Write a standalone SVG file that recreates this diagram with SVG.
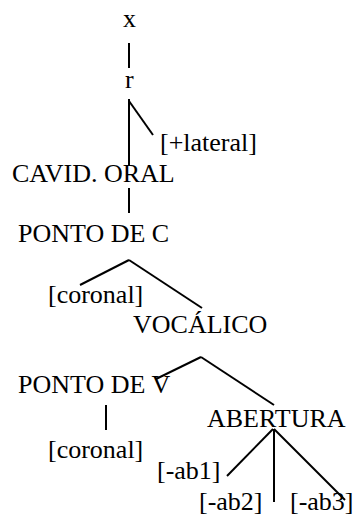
<svg xmlns="http://www.w3.org/2000/svg" width="353" height="522" viewBox="0 0 353 522">
<style>
text { font-family: "Liberation Serif", "Times New Roman", serif; font-size: 26px; fill: #000; }
.c line { stroke: #000; stroke-width: 2; stroke-linecap: butt; }
</style>
<rect width="353" height="522" fill="#fff"/>
<g id="connectors" class="c">
<line x1="129" y1="43" x2="129" y2="68"/>
<line x1="129" y1="99" x2="129" y2="166"/>
<line x1="129" y1="101" x2="153" y2="135"/>
<line x1="129" y1="188" x2="129" y2="213"/>
<line x1="129" y1="260" x2="80" y2="285"/>
<line x1="129" y1="260" x2="202" y2="308"/>
<line x1="201" y1="357" x2="156" y2="379"/>
<line x1="201" y1="357" x2="274" y2="405"/>
<line x1="106" y1="405" x2="106" y2="430"/>
<line x1="273" y1="429" x2="227" y2="476"/>
<line x1="274" y1="429" x2="274" y2="502"/>
<line x1="274" y1="429" x2="345" y2="500"/>
</g>
<g id="n-x"><text x="123" y="27">x</text></g>
<g id="n-r"><text x="125" y="88">r</text></g>
<g id="n-lateral"><text x="160" y="151">[+lateral]</text></g>
<g id="n-cavid"><text x="12" y="182">CAVID. ORAL</text></g>
<g id="n-pontoc"><text x="18" y="242">PONTO DE C</text></g>
<g id="n-coronal1"><text x="48" y="303">[coronal]</text></g>
<g id="n-vocalico"><text x="133" y="333">VOCÁLICO</text></g>
<g id="n-pontov"><text x="18" y="393">PONTO DE V</text></g>
<g id="n-abertura"><text x="207" y="427">ABERTURA</text></g>
<g id="n-coronal2"><text x="48" y="458">[coronal]</text></g>
<g id="n-ab1"><text x="157" y="479">[-ab1]</text></g>
<g id="n-ab2"><text x="199" y="510">[-ab2]</text></g>
<g id="n-ab3"><text x="290" y="510">[-ab3]</text></g>
</svg>
